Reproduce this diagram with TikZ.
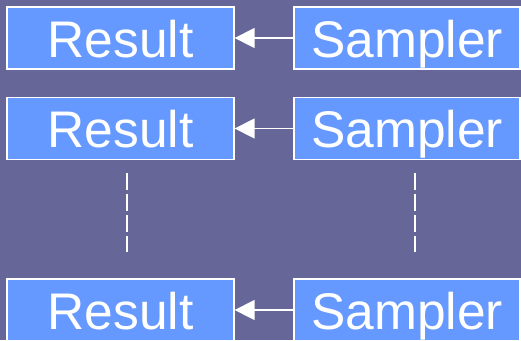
\documentclass[tikz,border=0pt]{standalone}
\usepackage{fontspec}
\setmainfont{Liberation Sans}
\usetikzlibrary{arrows.meta}
\definecolor{bgpurple}{HTML}{666699}
\definecolor{boxblue}{HTML}{6699FF}
\tikzset{
  block/.style={draw=white, line width=1.3pt, fill=boxblue, text=white,
    minimum height=62pt, inner sep=0pt, text height=38pt, text depth=0pt,
    font=\fontsize{51.5}{52}\selectfont},
  resultbox/.style={block, minimum width=227pt},
  samplerbox/.style={block, minimum width=226pt},
  feed/.style={draw=white, line width=1.4pt, -{Triangle[length=20pt,width=20pt]}},
  gapline/.style={draw=white, line width=1.3pt, dash pattern=on 17pt off 4pt}
}
\begin{document}
\begin{tikzpicture}[x=1pt,y=1pt]
  \fill[bgpurple] (0,0) rectangle (521,-340);
  \useasboundingbox (0,0) rectangle (521,-340);
  \begin{scope}
    \clip (0,0) rectangle (521,-340);
    % first row
    \node[resultbox]  (r1) at (120.5,-38) {Result};
    \node[samplerbox] (s1) at (407,-38) {Sampler};
    % second row
    \node[resultbox]  (r2) at (120.5,-128.5) {Result};
    \node[samplerbox] (s2) at (407,-128.5) {Sampler};
    % last row
    \node[resultbox]  (r3) at (120.5,-310) {Result};
    \node[samplerbox] (s3) at (407,-310) {Sampler};
    \draw[feed] (s1) -- (r1);
    \draw[feed] (s2) -- (r2);
    \draw[feed] (s3) -- (r3);
    % elision marks between rows
    \coordinate (ra) at (127,-173);
    \coordinate (rb) at (127,-252);
    \coordinate (sa) at (415,-173);
    \coordinate (sb) at (415,-252);
    \draw[gapline] (ra) -- (rb);
    \draw[gapline] (sa) -- (sb);
  \end{scope}
\end{tikzpicture}
\end{document}
